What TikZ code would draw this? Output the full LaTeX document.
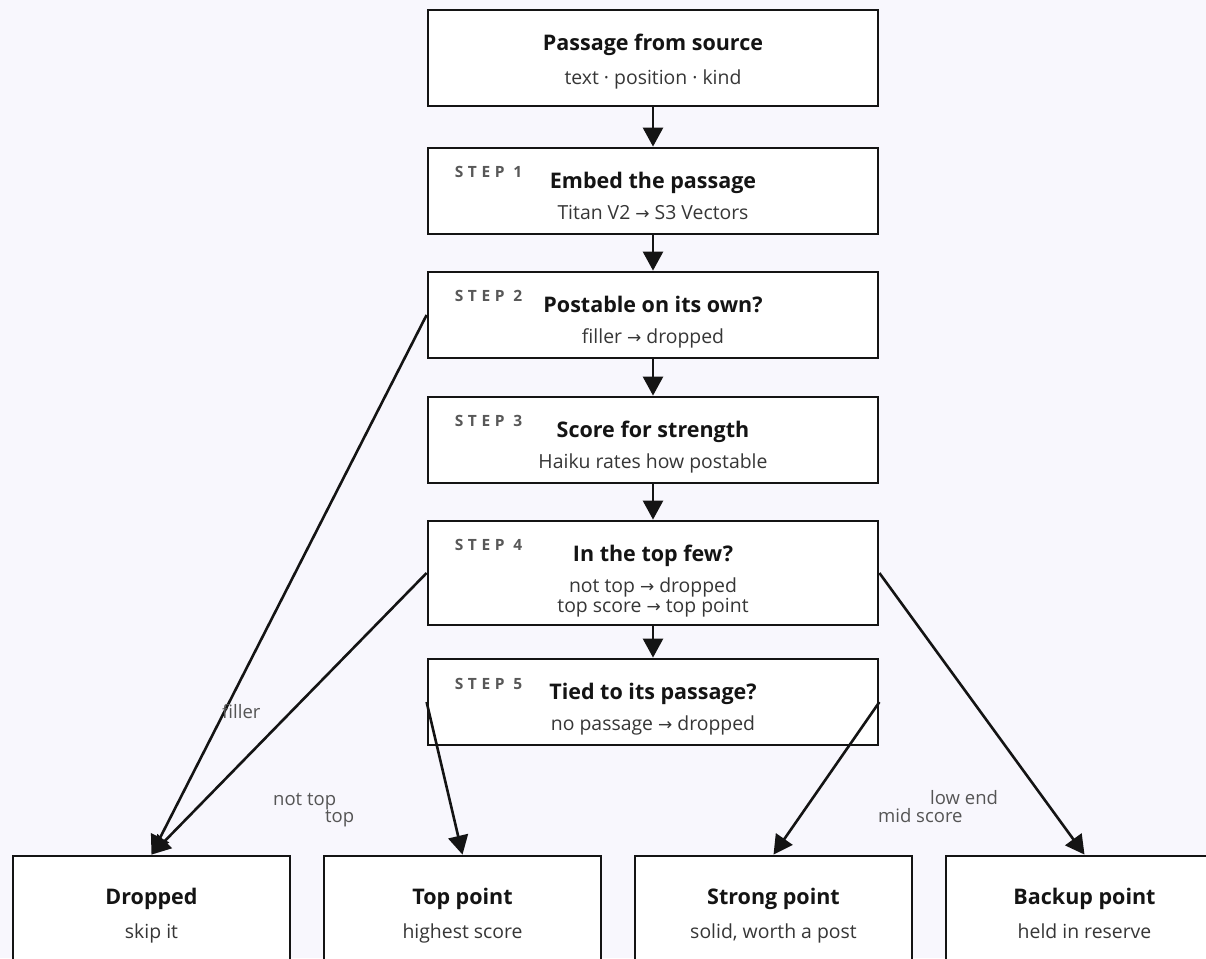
\documentclass[tikz,border=0pt]{standalone}
\usepackage{fontspec}
\setmainfont{Open Sans}
\newfontfamily\stepfont{Open Sans}[LetterSpace=30]
\newfontfamily\symfont{DejaVu Sans}
\newcommand{\toarrow}{{\symfont\fontsize{17}{18}\selectfont →}}
\usetikzlibrary{arrows.meta}
\definecolor{bg}{HTML}{F8F7FD}
\definecolor{ink}{HTML}{141414}
\definecolor{subink}{HTML}{363636}
\definecolor{stepink}{HTML}{585858}
\definecolor{lblink}{HTML}{555555}

\begin{document}
\begin{tikzpicture}[x=1pt,y=-1pt,
  box/.style={draw=ink, line width=2.8pt, fill=white, rectangle, inner sep=0pt,
              minimum width=450pt},
  outbox/.style={box, minimum width=277pt, minimum height=120pt},
  flow/.style={draw=ink, line width=2.6pt, -{Triangle[length=19pt,width=20pt]}},
  title/.style={anchor=base, text=ink, inner sep=0pt,
                font=\bfseries\fontsize{21.5}{24}\selectfont},
  sub/.style={anchor=base, text=subink, inner sep=0pt,
              font=\fontsize{19.4}{22}\selectfont},
  steptag/.style={anchor=base west, text=stepink, inner sep=0pt,
                  font=\stepfont\bfseries\fontsize{15.5}{17}\selectfont},
  edgelbl/.style={anchor=base west, text=lblink, inner sep=0pt,
                  font=\fontsize{18.5}{22}\selectfont},
]
\path[use as bounding box] (0,0) rectangle (1206,958);
\clip (0,0) rectangle (1206,958);
\fill[bg] (0,0) rectangle (1206,958);

% main column of steps
\node[box, minimum height=96pt]  (src) at (653,58)  {};
\node[box, minimum height=86pt]  (s1)  at (653,191) {};
\node[box, minimum height=86pt]  (s2)  at (653,315) {};
\node[box, minimum height=86pt]  (s3)  at (653,440) {};
\node[box, minimum height=104pt] (s4)  at (653,573) {};
\node[box, minimum height=86pt]  (s5)  at (653,702) {};

% outcomes along the bottom
\node[outbox] (drop)   at (151.5,916)  {};
\node[outbox] (top)    at (462.5,916)  {};
\node[outbox] (strong) at (773.5,916)  {};
\node[outbox] (backup) at (1084.5,916) {};

% box texts
\node[title] (srcT) at ([yshift=-42pt]src.north) {Passage from source};
\node[sub]   (srcS) at ([yshift=-76pt]src.north) {text · position · kind};

\node[steptag] (s1tag) at ([xshift=28pt,yshift=-31pt]s1.north west) {STEP 1};
\node[title]   (s1T)   at ([yshift=-41.5pt]s1.north) {Embed the passage};
\node[sub]     (s1S)   at ([yshift=-73pt]s1.north) {Titan V2 \toarrow{} S3 Vectors};

\node[steptag] (s2tag) at ([xshift=28pt,yshift=-31pt]s2.north west) {STEP 2};
\node[title]   (s2T)   at ([yshift=-41.5pt]s2.north) {Postable on its own?};
\node[sub]     (s2S)   at ([yshift=-73pt]s2.north) {filler \toarrow{} dropped};

\node[steptag] (s3tag) at ([xshift=28pt,yshift=-31pt]s3.north west) {STEP 3};
\node[title]   (s3T)   at ([yshift=-41.5pt]s3.north) {Score for strength};
\node[sub]     (s3S)   at ([yshift=-73pt]s3.north) {Haiku rates how postable};

\node[steptag] (s4tag) at ([xshift=28pt,yshift=-31pt]s4.north west) {STEP 4};
\node[title]   (s4T)   at ([yshift=-42pt]s4.north) {In the top few?};
\node[sub]     (s4S)   at ([yshift=-73pt]s4.north) {not top \toarrow{} dropped};
\node[sub]     (s4S2)  at ([yshift=-93pt]s4.north) {top score \toarrow{} top point};

\node[steptag] (s5tag) at ([xshift=28pt,yshift=-32pt]s5.north west) {STEP 5};
\node[title]   (s5T)   at ([yshift=-42pt]s5.north) {Tied to its passage?};
\node[sub]     (s5S)   at ([yshift=-73pt]s5.north) {no passage \toarrow{} dropped};

\node[title] (dropT)   at ([yshift=-50pt]drop.north)   {Dropped};
\node[sub]   (dropS)   at ([yshift=-84pt]drop.north)   {skip it};
\node[title] (topT)    at ([yshift=-50pt]top.north)    {Top point};
\node[sub]   (topS)    at ([yshift=-84pt]top.north)    {highest score};
\node[title] (strongT) at ([yshift=-50pt]strong.north) {Strong point};
\node[sub]   (strongS) at ([yshift=-84pt]strong.north) {solid, worth a post};
\node[title] (backT)   at ([yshift=-50pt]backup.north) {Backup point};
\node[sub]   (backS)   at ([yshift=-84pt]backup.north) {held in reserve};

% straight-through flow
\draw[flow] (src.south) -- (s1.north);
\draw[flow] (s1.south) -- (s2.north);
\draw[flow] (s2.south) -- (s3.north);
\draw[flow] (s3.south) -- (s4.north);
\draw[flow] (s4.south) -- (s5.north);

% branches out to the outcomes
\draw[flow] (s2.west) -- (drop.north);
\draw[flow] (s4.west) -- (drop.north);
\draw[flow] (s5.west) -- (top.north);
\draw[flow] (s5.east) -- (strong.north);
\draw[flow] (s4.east) -- (backup.north);

% branch labels
\node[edgelbl] (lblFiller) at (222,718) {filler};
\node[edgelbl] (lblNotTop) at (273,805) {not top};
\node[edgelbl] (lblTop)    at (325,822) {top};
\node[edgelbl] (lblLow)    at (930,804) {low end};
\node[edgelbl] (lblMid)    at (878,822) {mid score};
\end{tikzpicture}
\end{document}
